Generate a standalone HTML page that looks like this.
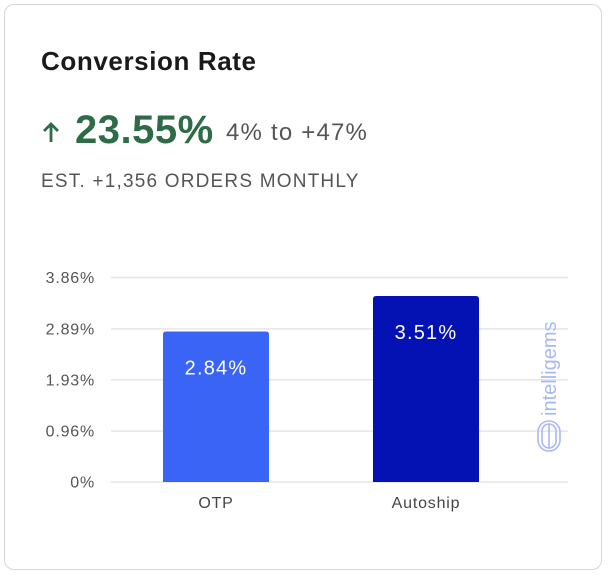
<!DOCTYPE html>
<html><head><meta charset="utf-8"><style>
body{margin:0;background:#fff;width:608px;height:576px;overflow:hidden;font-family:"Liberation Sans",sans-serif}
.card{position:absolute;left:4px;top:4px;width:598px;height:566px;border:1.5px solid #d6d6d6;border-radius:10px;box-sizing:border-box}
.t{position:absolute;white-space:nowrap}
</style></head><body>
<div class="card"></div>
<div class="t" style="left:41px;top:46px;font-size:26px;font-weight:bold;color:#1a1a1a;letter-spacing:0.6px">Conversion Rate</div>
<svg class="t" style="left:41px;top:120px" width="20" height="24" viewBox="0 0 20 24"><path d="M10 22V4M3 11l7-7 7 7" stroke="#2e6b47" stroke-width="2.8" fill="none"/></svg>
<div class="t" style="left:75px;top:108px;font-size:40px;font-weight:bold;color:#2e6b47;letter-spacing:0.5px">23.55%</div>
<div class="t" style="left:226px;top:119px;font-size:24px;color:#555;letter-spacing:1.2px">4% to +47%</div>
<div class="t" style="left:41px;top:171px;font-size:19px;color:#555;letter-spacing:1.2px">EST. +1,356 ORDERS MONTHLY</div>
<svg id="c" class="t" style="left:0;top:0" width="608" height="576"></svg>
<script>
const categories=["OTP","Autoship"];
const values=[2.84,3.51];
const tickValues=[0,0.96,1.93,2.89,3.86];
const tickLabels=["0%","0.96%","1.93%","2.89%","3.86%"];
const colors=["#3a64f5","#0412b4"];
const svg=document.getElementById('c'),NS="http://www.w3.org/2000/svg";
const y0=482,yTop=277.5,maxV=3.86;
const y=v=>y0-(v/maxV)*(y0-yTop);
const x=i=>163+i*210;const bw=106;
function mk(t,a,txt){const e=document.createElementNS(NS,t);for(const k in a)e.setAttribute(k,a[k]);if(txt!=null)e.textContent=txt;svg.appendChild(e);return e;}
tickValues.forEach((v,i)=>{
 const l=mk('line',{x1:111,x2:568,y1:y(v),y2:y(v),stroke:'#e6e6e6','stroke-width':1.5});
 
 
 const t=mk('text',{x:95,y:y(v)+5.5,'text-anchor':'end','font-size':16,'letter-spacing':0.8,fill:'#555','font-family':'Liberation Sans,sans-serif'},tickLabels[i]);
 
 
});
values.forEach((v,i)=>{
 const yt=y(v);
 const b=mk('path',{d:`M${x(i)} ${y0}V${yt+3}Q${x(i)} ${yt} ${x(i)+3} ${yt}H${x(i)+bw-3}Q${x(i)+bw} ${yt} ${x(i)+bw} ${yt+3}V${y0}Z`,fill:colors[i]});
 
 
 const vl=mk('text',{x:x(i)+bw/2,y:yt+43,'text-anchor':'middle','font-size':20,'letter-spacing':1.2,fill:'#fff','font-family':'Liberation Sans,sans-serif'},v.toFixed(2)+'%');
 
 
 const cl=mk('text',{x:x(i)+bw/2,y:508,'text-anchor':'middle','font-size':16,'letter-spacing':0.8,fill:'#444','font-family':'Liberation Sans,sans-serif'},categories[i]);
 
 
});
</script>
<svg class="t" style="left:532px;top:308px" width="34" height="148">
<text x="0" y="0" transform="translate(24,108) rotate(-90)" font-size="20" fill="#a9b8f5" font-family="Liberation Sans,sans-serif">intelligems</text>
<g fill="none" stroke="#a9b8f5" stroke-width="1.6"><rect x="6" y="113" width="22" height="30" rx="11"/><rect x="10" y="116" width="14" height="24" rx="7"/><line x1="17" y1="116" x2="17" y2="140"/></g>
</svg>
</body></html>
